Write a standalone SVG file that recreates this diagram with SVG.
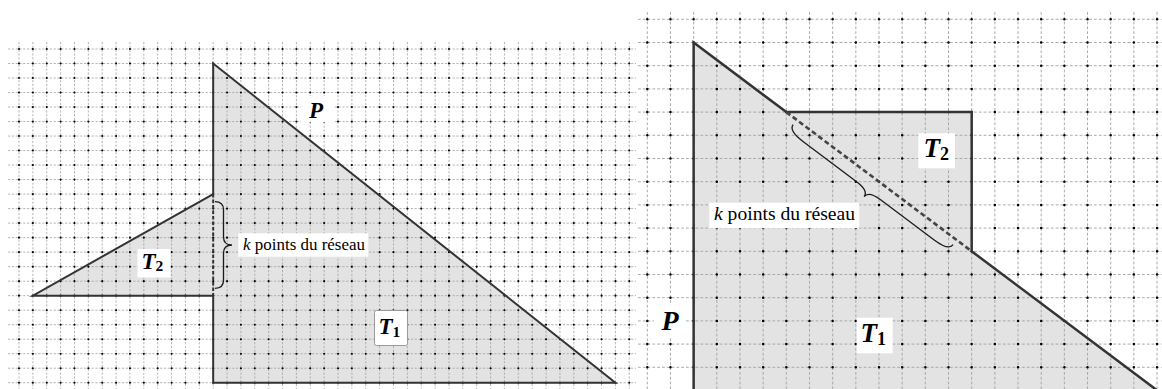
<svg xmlns="http://www.w3.org/2000/svg" width="1162" height="389" viewBox="0 0 1162 389">
<style>
.fill{fill:#e3e3e3;stroke:none}
.grid{fill:none;stroke:#a2a2a2;stroke-width:0.8;stroke-dasharray:2.2 1.6}
.gridR{fill:none;stroke:#a2a2a2;stroke-width:0.9;stroke-dasharray:2.8 2}
.dotL{stroke:#000;stroke-width:2.1;stroke-linecap:round;stroke-dasharray:0.01 13.86}
.dotR{stroke:#000;stroke-width:2.5;stroke-linecap:round;stroke-dasharray:0.01 23.16}
.edge{fill:none;stroke:#333;stroke-width:2;stroke-linejoin:miter}
.edgeR{fill:none;stroke:#333;stroke-width:2.5;stroke-linejoin:miter}
.dash{fill:none;stroke:#333;stroke-width:2;stroke-dasharray:3.5 2}
.dashR{fill:none;stroke:#444;stroke-width:2.6;stroke-dasharray:5 3}
.brace{fill:none;stroke:#1a1a1a;stroke-width:1.3}
.box{fill:#fff;stroke:none}
.boxb{fill:#fff;stroke:#9a9a9a;stroke-width:1}
.lab{font-family:"Liberation Serif","DejaVu Serif",serif;font-weight:bold;font-style:italic;fill:#000}
.sub{font-style:normal;font-weight:bold}
.txt{font-family:"Liberation Serif","DejaVu Serif",serif;fill:#000}
</style>

<!-- LEFT PANEL -->
<g id="left-fill">
<polygon class="fill" points="213.18,63.51 615.41,382.73 213.18,382.73 213.18,295.67 32.87,295.67 213.18,194.10"/>
</g>
<g id="left-grid">
<path class="grid" d="M19,42V389M32.87,42V389M46.74,42V389M60.61,42V389M74.48,42V389M88.35,42V389M102.22,42V389M116.09,42V389M129.96,42V389M143.83,42V389M157.7,42V389M171.57,42V389M185.44,42V389M199.31,42V389M213.18,42V389M227.05,42V389M240.92,42V389M254.79,42V389M268.66,42V389M282.53,42V389M296.4,42V389M310.27,42V389M324.14,42V389M338.01,42V389M351.88,42V389M365.75,42V389M379.62,42V389M393.49,42V389M407.36,42V389M421.23,42V389M435.1,42V389M448.97,42V389M462.84,42V389M476.71,42V389M490.58,42V389M504.45,42V389M518.32,42V389M532.19,42V389M546.06,42V389M559.93,42V389M573.8,42V389M587.67,42V389M601.54,42V389M615.41,42V389M629.28,42V389"/>
<path class="grid" d="M8,49H636M8,63.51H636M8,78.02H636M8,92.53H636M8,107.04H636M8,121.55H636M8,136.06H636M8,150.57H636M8,165.08H636M8,179.59H636M8,194.1H636M8,208.61H636M8,223.12H636M8,237.63H636M8,252.14H636M8,266.65H636M8,281.16H636M8,295.67H636M8,310.18H636M8,324.69H636M8,339.2H636M8,353.71H636M8,368.22H636M8,382.73H636"/>
<line class="dotL" x1="19" y1="49" x2="630" y2="49"/>
<line class="dotL" x1="19" y1="63.51" x2="630" y2="63.51"/>
<line class="dotL" x1="19" y1="78.02" x2="630" y2="78.02"/>
<line class="dotL" x1="19" y1="92.53" x2="630" y2="92.53"/>
<line class="dotL" x1="19" y1="107.04" x2="630" y2="107.04"/>
<line class="dotL" x1="19" y1="121.55" x2="630" y2="121.55"/>
<line class="dotL" x1="19" y1="136.06" x2="630" y2="136.06"/>
<line class="dotL" x1="19" y1="150.57" x2="630" y2="150.57"/>
<line class="dotL" x1="19" y1="165.08" x2="630" y2="165.08"/>
<line class="dotL" x1="19" y1="179.59" x2="630" y2="179.59"/>
<line class="dotL" x1="19" y1="194.1" x2="630" y2="194.1"/>
<line class="dotL" x1="19" y1="208.61" x2="630" y2="208.61"/>
<line class="dotL" x1="19" y1="223.12" x2="630" y2="223.12"/>
<line class="dotL" x1="19" y1="237.63" x2="630" y2="237.63"/>
<line class="dotL" x1="19" y1="252.14" x2="630" y2="252.14"/>
<line class="dotL" x1="19" y1="266.65" x2="630" y2="266.65"/>
<line class="dotL" x1="19" y1="281.16" x2="630" y2="281.16"/>
<line class="dotL" x1="19" y1="295.67" x2="630" y2="295.67"/>
<line class="dotL" x1="19" y1="310.18" x2="630" y2="310.18"/>
<line class="dotL" x1="19" y1="324.69" x2="630" y2="324.69"/>
<line class="dotL" x1="19" y1="339.2" x2="630" y2="339.2"/>
<line class="dotL" x1="19" y1="353.71" x2="630" y2="353.71"/>
<line class="dotL" x1="19" y1="368.22" x2="630" y2="368.22"/>
<line class="dotL" x1="19" y1="382.73" x2="630" y2="382.73"/>
</g>
<g id="left-P">
<path class="edge" d="M213.18,194.1V63.51L615.41,382.73H213.18V295.67H32.87L213.18,194.1"/>
<path class="dash" d="M213.18,194.1V295.67"/>
</g>
<g id="left-brace">
<path class="brace" transform="matrix(0,1,1,0,215,201.7)" d="M0,0Q0,8.5 8,8.5L35.3,8.5Q43.3,8.5 43.3,17Q43.3,8.5 51.3,8.5L78.6,8.5Q86.6,8.5 86.6,0"/>
</g>
<g id="left-labels">
<rect class="box" x="301" y="96" width="33" height="26"/>
<text class="lab" x="316" y="118" font-size="23" text-anchor="middle">P</text>
<rect class="box" x="137.5" y="249" width="33" height="28.5"/>
<text class="lab" x="141.5" y="268.5" font-size="23">T<tspan class="sub" font-size="15.5" dy="2.5">2</tspan></text>
<rect class="boxb" x="374.5" y="310.5" width="33" height="35" rx="2"/>
<text class="lab" x="378.5" y="333.5" font-size="23">T<tspan class="sub" font-size="15.5" dy="3.5">1</tspan></text>
<rect class="box" x="238.3" y="233.3" width="130" height="23.4"/>
<text class="txt" x="243" y="250" font-size="16" textLength="122" lengthAdjust="spacingAndGlyphs"><tspan font-style="italic">k</tspan> points du réseau</text>
</g>

<!-- RIGHT PANEL -->
<g id="right-fill">
<polygon class="fill" points="693.64,42.5 786.32,112.1 971.68,112.1 971.68,251.3 1170,400 693.64,400"/>
</g>
<g id="right-grid">
<path class="gridR" d="M647.3,12V389M670.47,12V389M693.64,12V389M716.81,12V389M739.98,12V389M763.15,12V389M786.32,12V389M809.49,12V389M832.66,12V389M855.83,12V389M879,12V389M902.17,12V389M925.34,12V389M948.51,12V389M971.68,12V389M994.85,12V389M1018.02,12V389M1041.19,12V389M1064.36,12V389M1087.53,12V389M1110.7,12V389M1133.87,12V389M1157.04,12V389"/>
<path class="gridR" d="M638,19.3H1162M638,42.5H1162M638,65.7H1162M638,88.9H1162M638,112.1H1162M638,135.3H1162M638,158.5H1162M638,181.7H1162M638,204.9H1162M638,228.1H1162M638,251.3H1162M638,274.5H1162M638,297.7H1162M638,320.9H1162M638,344.1H1162M638,367.3H1162"/>
<line class="dotR" x1="647.3" y1="19.3" x2="1158" y2="19.3"/>
<line class="dotR" x1="647.3" y1="42.5" x2="1158" y2="42.5"/>
<line class="dotR" x1="647.3" y1="65.7" x2="1158" y2="65.7"/>
<line class="dotR" x1="647.3" y1="88.9" x2="1158" y2="88.9"/>
<line class="dotR" x1="647.3" y1="112.1" x2="1158" y2="112.1"/>
<line class="dotR" x1="647.3" y1="135.3" x2="1158" y2="135.3"/>
<line class="dotR" x1="647.3" y1="158.5" x2="1158" y2="158.5"/>
<line class="dotR" x1="647.3" y1="181.7" x2="1158" y2="181.7"/>
<line class="dotR" x1="647.3" y1="204.9" x2="1158" y2="204.9"/>
<line class="dotR" x1="647.3" y1="228.1" x2="1158" y2="228.1"/>
<line class="dotR" x1="647.3" y1="251.3" x2="1158" y2="251.3"/>
<line class="dotR" x1="647.3" y1="274.5" x2="1158" y2="274.5"/>
<line class="dotR" x1="647.3" y1="297.7" x2="1158" y2="297.7"/>
<line class="dotR" x1="647.3" y1="320.9" x2="1158" y2="320.9"/>
<line class="dotR" x1="647.3" y1="344.1" x2="1158" y2="344.1"/>
<line class="dotR" x1="647.3" y1="367.3" x2="1158" y2="367.3"/>
</g>
<g id="right-P">
<path class="edgeR" d="M693.64,400V42.5L786.32,112.1H971.68V251.3L1170,400"/>
<path class="dashR" d="M786.32,112.1L971.68,251.3"/>
</g>
<g id="right-brace">
<path class="brace" transform="matrix(0.8,0.6,-0.6,0.8,793.1,124.7)" d="M0,0Q0,7.5 18,7.5L85,7.5Q100,7.5 100,15Q100,7.5 115,7.5L182,7.5Q200,7.5 200,0"/>
</g>
<g id="right-labels">
<rect class="box" x="654" y="305" width="32" height="32"/>
<text class="lab" x="670" y="330" font-size="28" text-anchor="middle">P</text>
<rect class="box" x="918.3" y="133.3" width="36.7" height="35"/>
<text class="lab" x="923.5" y="157" font-size="27">T<tspan class="sub" font-size="18" dy="3">2</tspan></text>
<rect class="box" x="856.7" y="317.7" width="36" height="35.6"/>
<text class="lab" x="860.5" y="342" font-size="27">T<tspan class="sub" font-size="18" dy="3">1</tspan></text>
<rect class="box" x="709.3" y="202.7" width="150" height="25.6"/>
<text class="txt" x="714" y="220" font-size="18" textLength="141" lengthAdjust="spacingAndGlyphs"><tspan font-style="italic">k</tspan> points du réseau</text>
</g>
</svg>
